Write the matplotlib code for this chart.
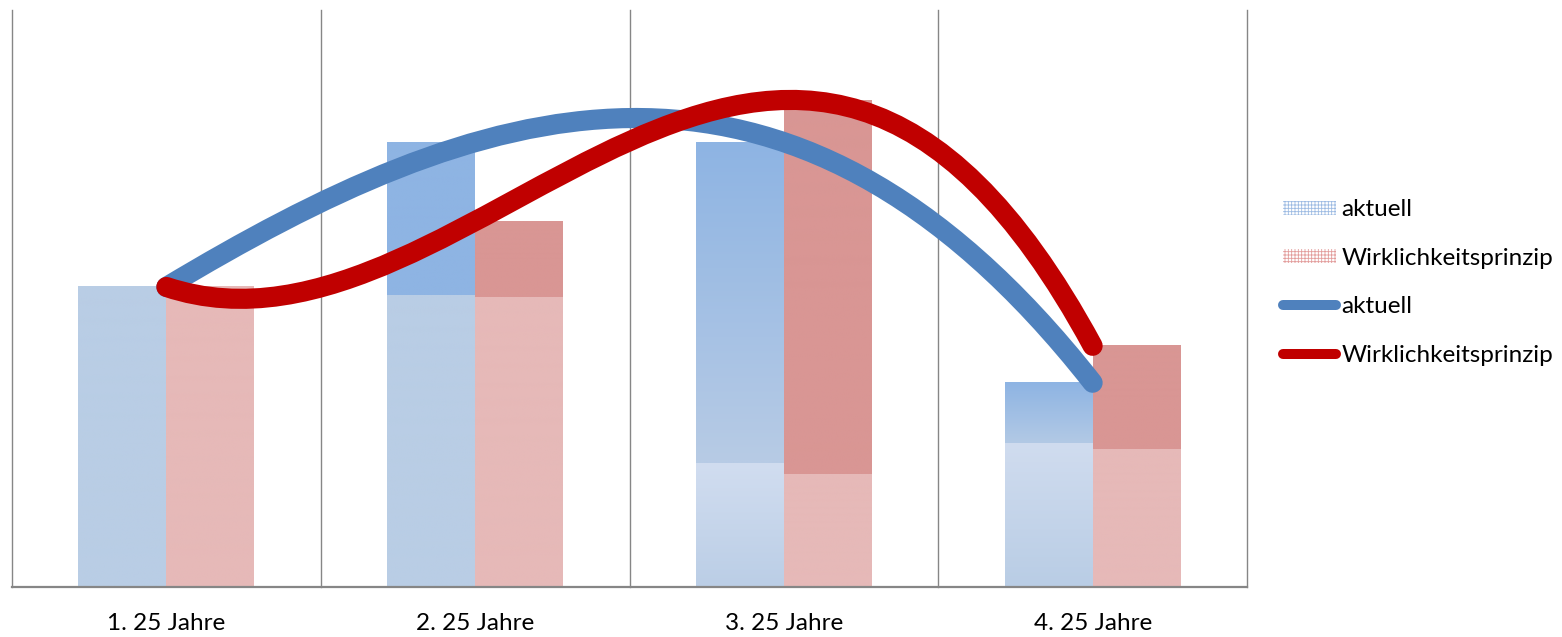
import numpy as np
import matplotlib.pyplot as plt
from matplotlib.path import Path
from matplotlib.patches import PathPatch, Patch
from matplotlib.lines import Line2D
from matplotlib.colors import to_rgb

plt.rcParams['font.family'] = ['Lato', 'DejaVu Sans']
plt.rcParams['hatch.linewidth'] = 0.6

categories = ['1. 25 Jahre', '2. 25 Jahre', '3. 25 Jahre', '4. 25 Jahre']
aktuell = [52.0, 77.1, 77.1, 35.4]
aktuell_lower = [52.0, 50.6, 21.5, 25.0]
wirklich = [52.0, 63.4, 84.4, 41.8]
wirklich_lower = [52.0, 50.3, 19.6, 23.9]

# (top, bottom) colours of each bar segment
blue_lower_cols = [('#b9cde5', '#b9cde5'), ('#b9cde5', '#b9cde5'),
                   ('#d1ddf0', '#bbcee6'), ('#d0dcef', '#b9cde5')]
blue_upper_cols = [('#8eb4e3', '#8eb4e3'), ('#8eb4e3', '#8eb4e3'),
                   ('#8eb4e3', '#b7cbe5'), ('#8eb4e3', '#b2c9e5')]
red_lower_cols = [('#e6b9b8', '#e6b9b8')] * 4
red_upper_cols = [('#d99694', '#d99694')] * 4

blue_line = '#4f81bd'
red_line = '#c00000'
grid_col = '#868686'


def fill_gradient(ax, rect, top, bottom):
    x0, y0 = rect.get_x(), rect.get_y()
    w, h = rect.get_width(), rect.get_height()
    if h <= 0:
        return
    c = np.linspace(0, 1, 64)[:, None]
    img = (1 - c) * np.array(to_rgb(top)) + c * np.array(to_rgb(bottom))
    ax.imshow(img[:, None, :], extent=(x0, x0 + w, y0, y0 + h), aspect='auto',
              origin='upper', interpolation='bilinear', zorder=1)
    rect.set_facecolor('none')


def cubic_path(y):
    # single cubic through the four points (x = 0..3) as a Bezier
    b1 = (-5 * y[0] + 18 * y[1] - 9 * y[2] + 2 * y[3]) / 6
    b2 = (2 * y[0] - 9 * y[1] + 18 * y[2] - 5 * y[3]) / 6
    verts = [(0, y[0]), (1, b1), (2, b2), (3, y[3])]
    codes = [Path.MOVETO, Path.CURVE4, Path.CURVE4, Path.CURVE4]
    return Path(verts, codes)


fig = plt.figure(figsize=(15.62, 6.37), dpi=100)
ax = fig.add_axes([12 / 1562, 1 - 587 / 637, (1247 - 12) / 1562, 577 / 637])

x = np.arange(len(categories))
w = 0.285
akt_upper = np.array(aktuell) - np.array(aktuell_lower)
wir_upper = np.array(wirklich) - np.array(wirklich_lower)

bl = ax.bar(x - w / 2, aktuell_lower, w, linewidth=0)
bu = ax.bar(x - w / 2, akt_upper, w, bottom=aktuell_lower, linewidth=0)
rl = ax.bar(x + w / 2, wirklich_lower, w, linewidth=0)
ru = ax.bar(x + w / 2, wir_upper, w, bottom=wirklich_lower, linewidth=0)

for bars, cols in [(bl, blue_lower_cols), (bu, blue_upper_cols),
                   (rl, red_lower_cols), (ru, red_upper_cols)]:
    for rect, (top, bottom) in zip(bars, cols):
        fill_gradient(ax, rect, top, bottom)

ax.add_patch(PathPatch(cubic_path(aktuell), fill=False, edgecolor=blue_line,
                       lw=14.5, capstyle='round', zorder=3))
ax.add_patch(PathPatch(cubic_path(wirklich), fill=False, edgecolor=red_line,
                       lw=14.5, capstyle='round', zorder=4))

ax.set_xlim(-0.5, 3.5)
ax.set_ylim(0, 100)
ax.set_xticks(x)
ax.set_xticklabels(categories, fontsize=17.5)
ax.tick_params(axis='x', length=0, pad=19)
ax.set_yticks([])
# category separators
for b in np.arange(-0.5, 4, 1):
    ax.axvline(b, color=grid_col, lw=1.0, zorder=0.5, clip_on=False)
for s in ['top', 'right', 'left']:
    ax.spines[s].set_visible(False)
ax.spines['bottom'].set_color(grid_col)
ax.spines['bottom'].set_linewidth(1.6)

handles = [
    Patch(facecolor='white', edgecolor='#9dbbe3', hatch='+++++', linewidth=0),
    Patch(facecolor='white', edgecolor='#e39d9c', hatch='+++++', linewidth=0),
    Line2D([], [], color=blue_line, lw=7.2, solid_capstyle='round'),
    Line2D([], [], color=red_line, lw=7.2, solid_capstyle='round'),
]
labels = ['aktuell', 'Wirklichkeitsprinzip', 'aktuell', 'Wirklichkeitsprinzip']
fig.legend(handles, labels, loc='center left', bbox_to_anchor=(1283 / 1562, 1 - 282.5 / 637),
           frameon=False, fontsize=17.5, handlelength=2.2, handleheight=0.5,
           handletextpad=0.2, labelspacing=1.13, borderpad=0, borderaxespad=0)

fig.savefig('out.png', dpi=100)
